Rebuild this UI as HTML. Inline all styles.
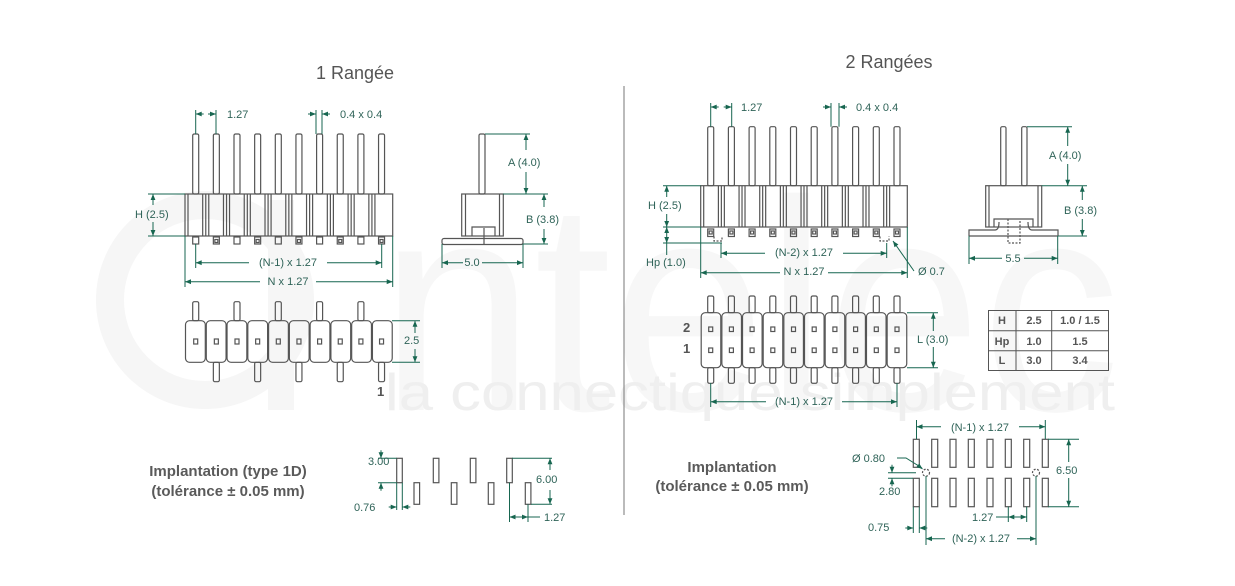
<!DOCTYPE html>
<html><head><meta charset="utf-8">
<style>
html,body{margin:0;padding:0;background:#fff;}
svg{display:block;}
text{font-family:"Liberation Sans",sans-serif;}
.d{fill:#2f6358;font-size:11px;}
.t{fill:#555;font-size:18px;}
.b{fill:#5a5a5a;font-size:15px;font-weight:bold;}
.tb{fill:#555;font-size:11px;font-weight:bold;}
</style></head><body>
<svg id="s" width="1235" height="586" viewBox="0 0 1235 586" xmlns="http://www.w3.org/2000/svg">
<defs>
<marker id="a" viewBox="0 0 10 10" refX="10" refY="5" markerWidth="7" markerHeight="6" orient="auto-start-reverse" markerUnits="userSpaceOnUse"><path d="M0,1 L10,5 L0,9 z" fill="#176650"/></marker>
</defs>
<!-- watermark -->
<g>
<circle cx="205" cy="300" r="95" fill="none" stroke="#f6f6f6" stroke-width="28"/>
<rect x="268" y="200" width="26" height="210" fill="#f6f6f6"/>
<text x="380" y="410" font-size="300" fill="#f7f7f7" textLength="740" lengthAdjust="spacingAndGlyphs" style="font-family:'Liberation Sans',sans-serif">ntelec</text>
<text x="385" y="410" font-size="52" fill="#efefef" textLength="730" lengthAdjust="spacingAndGlyphs" style="font-family:'Liberation Sans',sans-serif">la connectique simplement</text>
</g>
<line x1="624" y1="86" x2="624" y2="515" stroke="#777" stroke-width="1"/>
<g id="g" fill="none" stroke="#555" stroke-width="1.2"></g>
<g id="dm" fill="none" stroke="#176650" stroke-width="1"></g>
<!-- Titles -->
<text class="t" x="355" y="79" text-anchor="middle">1 Rangée</text>
<text class="t" x="889" y="68" text-anchor="middle">2 Rangées</text>
<text class="b" x="228" y="476" text-anchor="middle">Implantation (type 1D)</text>
<text class="b" x="228" y="496" text-anchor="middle">(tolérance ± 0.05 mm)</text>
<text class="b" x="732" y="472" text-anchor="middle">Implantation</text>
<text class="b" x="732" y="491" text-anchor="middle">(tolérance ± 0.05 mm)</text>
<!-- left labels -->
<g class="d">
<text x="227" y="118">1.27</text>
<text x="340" y="118">0.4 x 0.4</text>
<text x="135" y="218">H (2.5)</text>
<text x="508" y="166">A (4.0)</text>
<text x="526" y="223">B (3.8)</text>
<text x="472" y="266" text-anchor="middle">5.0</text>
<text x="288" y="266" text-anchor="middle">(N-1) x 1.27</text>
<text x="288" y="285" text-anchor="middle">N x 1.27</text>
<text x="404" y="344">2.5</text>
<text x="368" y="465">3.00</text>
<text x="354" y="511">0.76</text>
<text x="536" y="483">6.00</text>
<text x="544" y="521">1.27</text>
<!-- right labels -->
<text x="741" y="111">1.27</text>
<text x="856" y="111">0.4 x 0.4</text>
<text x="648" y="209">H (2.5)</text>
<text x="646" y="266">Hp (1.0)</text>
<text x="804" y="256" text-anchor="middle">(N-2) x 1.27</text>
<text x="804" y="275" text-anchor="middle">N x 1.27</text>
<text x="918" y="275">Ø 0.7</text>
<text x="1049" y="159">A (4.0)</text>
<text x="1064" y="214">B (3.8)</text>
<text x="1013" y="262" text-anchor="middle">5.5</text>
<text x="917" y="343">L (3.0)</text>
<text x="804" y="405" text-anchor="middle">(N-1) x 1.27</text>
<text x="980" y="431" text-anchor="middle">(N-1) x 1.27</text>
<text x="852" y="462">Ø 0.80</text>
<text x="879" y="495">2.80</text>
<text x="868" y="531">0.75</text>
<text x="1056" y="474">6.50</text>
<text x="972" y="521">1.27</text>
<text x="981" y="542" text-anchor="middle">(N-2) x 1.27</text>
</g>
<text x="683" y="332" fill="#555" font-size="13" font-weight="bold">2</text>
<text x="683" y="353" fill="#555" font-size="13" font-weight="bold">1</text>
<text x="377" y="396" fill="#555" font-size="13" font-weight="bold">1</text>
<!-- table -->
<g fill="none" stroke="#555" stroke-width="1">
<rect x="988.5" y="310.5" width="120" height="60"/>
<line x1="1016" y1="310" x2="1016" y2="371"/><line x1="1051.7" y1="310" x2="1051.7" y2="371"/>
<line x1="988" y1="330.7" x2="1108" y2="330.7"/><line x1="988" y1="350.7" x2="1108" y2="350.7"/>
</g>
<g class="tb" text-anchor="middle">
<text x="1002" y="324">H</text><text x="1034" y="324">2.5</text><text x="1080" y="324">1.0 / 1.5</text>
<text x="1002" y="345">Hp</text><text x="1034" y="345">1.0</text><text x="1080" y="345">1.5</text>
<text x="1002" y="364">L</text><text x="1034" y="364">3.0</text><text x="1080" y="364">3.4</text>
</g>
</svg>
<script>
var NS="http://www.w3.org/2000/svg",G=document.getElementById('g'),D=document.getElementById('dm');
function el(p,t,a){var e=document.createElementNS(NS,t);for(var k in a)e.setAttribute(k,a[k]);p.appendChild(e);return e;}
function r(x,y,w,h,rx){el(G,'rect',{x:x,y:y,width:w,height:h,rx:rx||0});}
function l(x1,y1,x2,y2){el(G,'line',{x1:x1,y1:y1,x2:x2,y2:y2});}
function e(x1,y1,x2,y2){el(D,'line',{x1:x1,y1:y1,x2:x2,y2:y2});}
function dm(x1,y1,x2,y2,gap){
 if(gap){ if(y1==y2){el(D,'line',{x1:x1,y1:y1,x2:gap[0],y2:y2,'marker-start':'url(#a)'});el(D,'line',{x1:gap[1],y1:y1,x2:x2,y2:y2,'marker-end':'url(#a)'});}
  else{el(D,'line',{x1:x1,y1:y1,x2:x2,y2:gap[0],'marker-start':'url(#a)'});el(D,'line',{x1:x1,y1:gap[1],x2:x2,y2:y2,'marker-end':'url(#a)'});}}
 else el(D,'line',{x1:x1,y1:y1,x2:x2,y2:y2,'marker-start':'url(#a)','marker-end':'url(#a)'});}
function inA(x,y,dx,dy){el(D,'line',{x1:x-dx,y1:y-dy,x2:x,y2:y,'marker-end':'url(#a)'});}
// ===== LEFT FRONT =====
var p1=[];for(var i=0;i<10;i++)p1.push(195.7+i*20.65);
p1.forEach(function(x){r(x-3,134,6,60,1.5);});
r(185,194,207.7,42);
for(var i=0;i<10;i++){var b=185+i*20.77;if(i>0)l(b,194,b,236);l(b+3,194,b+3,236);if(i<9)l(b+17.7,194,b+17.7,236);}
p1.forEach(function(x,i){r(x-3,237,6,7);if(i%2)r(x-1.5,239.5,3,3);});
e(195.7,110,195.7,134);e(216,110,216,134);inA(195.7,114,-8,0);inA(216,114,8,0);
e(316,110,316,134);e(322,110,322,134);inA(316,114,8,0);inA(322,114,-8,0);
e(148,194,185,194);e(148,236,185,236);dm(153,194,153,236,[205,222]);
e(195.7,244,195.7,268);e(381.7,244,381.7,268);dm(195.7,262.7,381.7,262.7,[249,327]);
e(185,236,185,287);e(392.7,236,392.7,287);dm(185,281.7,392.7,281.7,[260,316]);
// ===== LEFT SIDE =====
r(479,134,6,60,1.5);
r(461.7,194,41.6,42);l(465.5,194,465.5,236);l(499.5,194,499.5,236);
el(G,'path',{d:'M472,236 V227 H495 V236'});
r(442,238.5,81,6,2);l(484,228,484,244);
e(485,134,530,134);e(503,194,548,194);e(523,244,548,244);
dm(526,134,526,194,[150,172]);dm(544,194,544,244,[207,229]);
e(442,244,442,268);e(523,244,523,268);dm(442,262.7,523,262.7,[463,482]);
// ===== LEFT BOTTOM =====
for(var i=0;i<10;i++){var b=185+i*20.77;r(b+0.5,320.7,19.8,41.6,4);}
p1.forEach(function(x,i){r(x-2,339,4,5);if(i%2==0)r(x-3,301.7,6,19,1.5);else r(x-3,362.3,6,19.4,1.5);});
e(392,320.7,420,320.7);e(392,362.3,420,362.3);dm(415,320.7,415,362.3,[333,349]);
// ===== LEFT PADS =====
[396.7,433.3,470.3,506.7].forEach(function(x){r(x,458.3,5.6,24.4);});
[414,451.3,488.3,525.3].forEach(function(x){r(x,482.7,5.6,21.6);});
e(378,458.3,396.7,458.3);e(378,482.7,396.7,482.7);inA(381,458.3,0,8);inA(381,482.7,0,-8);
e(396.7,482.7,396.7,510);e(402.3,482.7,402.3,510);inA(396.7,507,8,0);inA(402.3,507,-8,0);
e(512,458.3,552,458.3);e(531,504.3,552,504.3);dm(550,458.3,550,504.3,[470,490]);
e(509.5,482.7,509.5,522);e(528,504.3,528,522);dm(509.5,517,528,517);e(528,517,540,517);
// ===== RIGHT FRONT =====
var p2=[];for(var i=0;i<10;i++)p2.push(710.7+i*20.7);
p2.forEach(function(x){r(x-3,126.7,6,59,1.5);});
r(700.7,185.7,206.6,41.3);
for(var i=0;i<10;i++){var b=700.7+i*20.66;if(i>0)l(b,185.7,b,227);l(b+3,185.7,b+3,227);if(i<9)l(b+17.7,185.7,b+17.7,227);}
p2.forEach(function(x,i){r(x-3,229,6,7.5);r(x-1.5,231,3,3);});
el(G,'path',{d:'M714,236.5 V241 H722 V236.5 M880,236.5 V241 H889 V236.5','stroke-dasharray':'2 1.5'});
e(710.7,103,710.7,126.7);e(731.7,103,731.7,126.7);inA(710.7,107,-8,0);inA(731.7,107,8,0);
e(831,103,831,126.7);e(839,103,839,126.7);inA(831,107,8,0);inA(839,107,-8,0);
e(663,185.7,700.7,185.7);e(663,227,700.7,227);e(663,243,722,243);
dm(666.7,185.7,666.7,227,[197,214]);dm(666.7,227,666.7,243);e(666.7,243,666.7,255);
e(721,243,721,258);e(886.7,243,886.7,258);dm(721,253.3,886.7,253.3,[765,843]);
e(700.7,227,700.7,278);e(907.3,227,907.3,278);dm(700.7,272.7,907.3,272.7,[780,828]);
el(D,'line',{x1:914,y1:271,x2:893,y2:241,'marker-end':'url(#a)'});
// ===== RIGHT SIDE =====
r(1000.7,126.7,5.3,59,1.5);r(1021.7,126.7,5.3,59,1.5);
r(985.7,185.7,56,41.3);l(989,185.7,989,227);l(1038,185.7,1038,227);
el(G,'path',{d:'M994,227 V219 H1033 V227'});
el(G,'path',{d:'M969,236 V230 H995 Q999,230 999,222 M1058,236 V230 H1032 Q1028,230 1028,222 M969,236 H1058'});
el(G,'path',{d:'M1008,219 V243 H1020 V219','stroke-dasharray':'2 1.5'});
e(1027,126.7,1072,126.7);e(1041.7,185.7,1087,185.7);e(1058,236,1087,236);
dm(1067.7,126.7,1067.7,185.7,[146,164]);dm(1082.3,185.7,1082.3,236,[200,219]);
e(969,236,969,264);e(1057.7,236,1057.7,264);dm(969,258.3,1057.7,258.3,[1002,1024]);
// ===== RIGHT BOTTOM =====
for(var i=0;i<10;i++){var b=700.7+i*20.66;r(b+0.5,312.7,19.6,55,4);}
p2.forEach(function(x){r(x-3,296,6,16.7,1.5);r(x-3,367.7,6,15.6,1.5);r(x-2,327,4,4.5);r(x-2,348,4,4.5);});
e(907,312.7,938,312.7);e(907,367.7,938,367.7);dm(933.3,312.7,933.3,367.7,[331,347]);
e(710.7,383,710.7,407);e(897,383,897,407);dm(710.7,401.7,897,401.7,[766,842]);
// ===== RIGHT PADS =====
[913.3,931.7,950,968.3,987,1005.3,1023.7,1042.3].forEach(function(x,i){r(x,439.3,6,28);if(i!=1&&i!=6)r(x,478.3,6,28.4);});
r(931.7,478.3,6,28.4);r(1023.7,478.3,6,28.4);
el(G,'circle',{cx:926,cy:472.7,r:3.5,'stroke-dasharray':'2 1.5'});el(G,'circle',{cx:1036,cy:472.7,r:3.5,'stroke-dasharray':'2 1.5'});
e(916.5,420,916.5,439);e(1045.3,420,1045.3,439);dm(916.5,426.7,1045.3,426.7,[941,1019]);
e(1048,439.3,1079,439.3);e(1048,506.7,1079,506.7);dm(1068.7,439.3,1068.7,506.7,[462,478]);
el(D,'path',{d:'M897,458 H906 L922,468'});inA(922.5,469,5,4);
e(888,472.7,916,472.7);e(888,478.3,913,478.3);inA(892,472.7,0,8);inA(892,478.3,0,-8);
e(913.3,506.7,913.3,533);e(919.3,506.7,919.3,533);inA(913.3,528,8,0);inA(919.3,528,-8,0);
e(926,476,926,545);e(1036,476,1036,545);dm(926,538.7,1036,538.7,[945,1017]);
e(1008.3,506.7,1008.3,522);e(1026.7,506.7,1026.7,522);dm(1008.3,517,1026.7,517);e(996,517,1008,517);
</script>
</body></html>
